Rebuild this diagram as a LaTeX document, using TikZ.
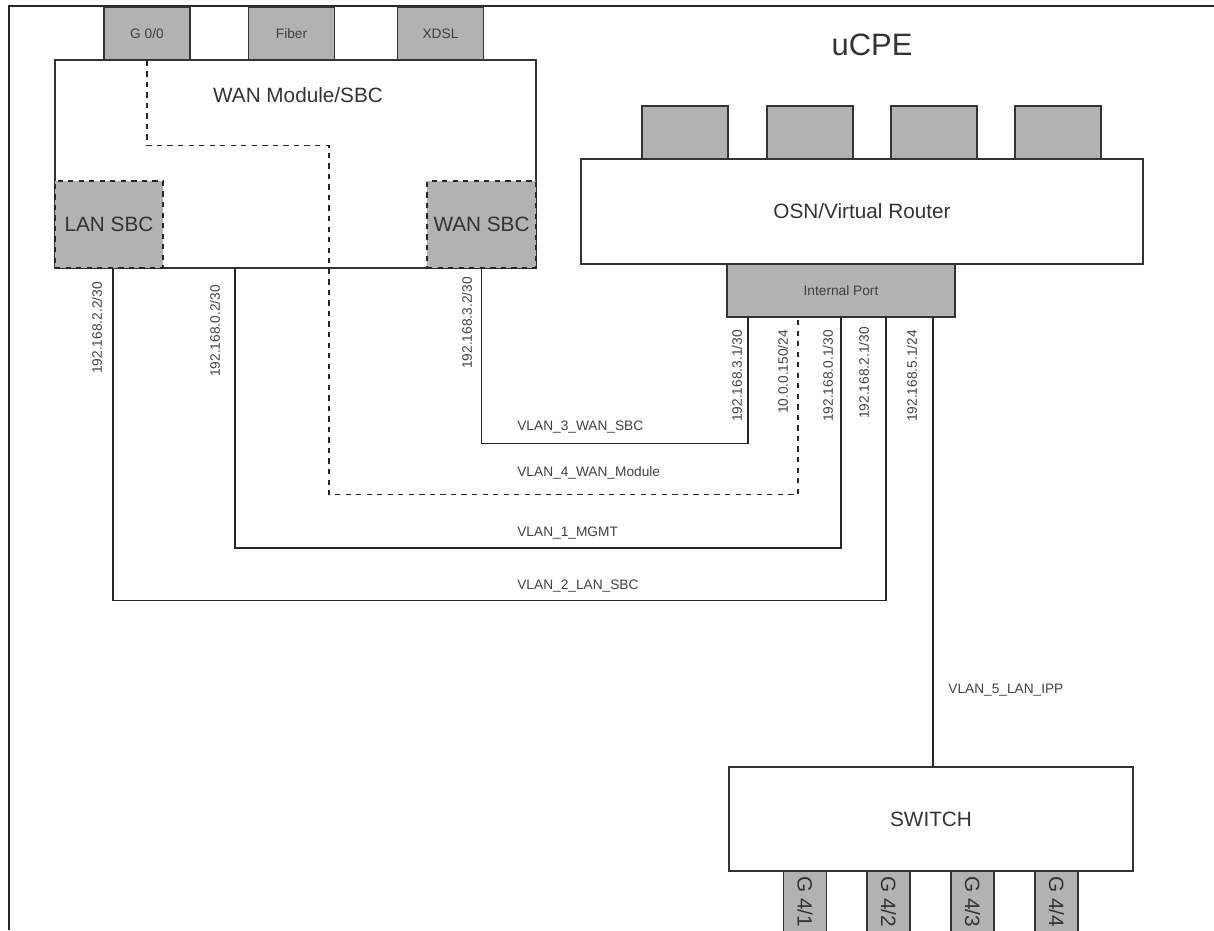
\documentclass[tikz,border=0pt]{standalone}
\usepackage{fontspec}
\setmainfont{Liberation Sans}
\usetikzlibrary{positioning}

\tikzset{
    box/.style={draw=black!80, fill=white, line width=0.8pt, inner sep=0pt,
        text=black!80, font=\fontsize{11.8}{14}\selectfont},
    port/.style={draw=black!80, fill=black!30, line width=0.8pt, inner sep=0pt,
        minimum width=1.72cm, minimum height=1.06cm,
        text=black!75, font=\fontsize{7.8}{9}\selectfont},
    sbc/.style={draw=black!85, fill=black!30, dashed, line width=0.8pt, inner sep=0pt,
        minimum height=1.74cm, text=black!80, font=\fontsize{11.8}{14}\selectfont},
    swport/.style={draw=black!80, fill=black!30, line width=0.8pt,
        minimum width=0.86cm, minimum height=2.2cm},
    swtext/.style={rotate=-90, anchor=west, inner sep=0pt, text=black!80,
        font=\fontsize{11.8}{14}\selectfont},
    wire/.style={draw=black!85, line width=0.8pt},
    ip/.style={rotate=90, inner sep=0pt, text=black!75, font=\fontsize{7.8}{9}\selectfont},
    vlan/.style={anchor=west, inner sep=0pt, text=black!75, font=\fontsize{7.8}{9}\selectfont},
    frameline/.style={draw=black!85, line width=1.1pt}
}

\begin{document}
\begin{tikzpicture}[x=0.02cm, y=-0.02cm]
    \useasboundingbox (0,0) rectangle (1214,930);
    \clip (0,0) rectangle (1214,930);
    \draw[frameline] (1214,6) -- (9,6) -- (9,930);

    % WAN module side
    \node[box, minimum width=9.62cm, minimum height=4.16cm] (wanmod) at (295.5,164) {};
    \node[box, draw=none, fill=none] (wantitle) at (298,95) {WAN Module/SBC};
    \node[port] (g00) at (147,33.5) {G 0/0};
    \node[port] (fiber) at (291.5,33.5) {Fiber};
    \node[port] (xdsl) at (440.5,33.5) {XDSL};
    \node[sbc, minimum width=2.16cm] (lansbc) at (109,224.5) {LAN SBC};
    \node[sbc, minimum width=2.18cm] (wansbc) at (481.5,224.5) {WAN SBC};
    \coordinate (sbcmgmt) at (235,268);

    % uCPE side
    \node[box, draw=none, fill=none, font=\fontsize{17.6}{20}\selectfont] (ucpe) at (872,45) {uCPE};
    \node[box, minimum width=11.24cm, minimum height=2.1cm] (osn) at (862,211.5) {OSN/Virtual Router};
    \foreach \x [count=\i] in {685,810,934,1058}
        \node[port] (osnp\i) at (\x,132.5) {};
    \node[port, minimum width=4.56cm] (intport) at (841,290.5) {Internal Port};
    \coordinate (tap3) at (748,317);
    \coordinate (tap4) at (798,317);
    \coordinate (tap1) at (841,317);
    \coordinate (tap2) at (886,317);
    \coordinate (tap5) at (933,317);

    % switch
    \foreach \x [count=\i] in {805,888.5,972.5,1056.5} {
        \node[swport] (swp\i) at (\x,925) {};
        \node[swtext] (swl\i) at (\x,876) {G 4/\i};
    }
    \node[box, minimum width=8.08cm, minimum height=2.08cm] (switch) at (931,819) {SWITCH};

    % vlans
    \draw[wire] (wansbc.south) -- ++(0,175) -| (tap3);
    \draw[wire, dashed] (g00.south) -- ++(0,85) -- ++(182,0) -- ++(0,349) -| (tap4);
    \draw[wire] (sbcmgmt) -- ++(0,280) -| (tap1);
    \draw[wire] ([xshift=0.08cm]lansbc.south) -- ++(0,332) -| (tap2);
    \draw[wire] (tap5) -- (tap5 |- switch.north);

    \node[vlan] (vlan3) at (517,427) {VLAN\_3\_WAN\_SBC};
    \node[vlan] (vlan4) at (517,473) {VLAN\_4\_WAN\_Module};
    \node[vlan] (vlan1) at (517,533) {VLAN\_1\_MGMT};
    \node[vlan] (vlan2) at (517,586) {VLAN\_2\_LAN\_SBC};
    \node[vlan] (vlan5) at (948,690) {VLAN\_5\_LAN\_IPP};

    % addresses
    \node[ip] (ip22) at (97,328) {192.168.2.2/30};
    \node[ip] (ip02) at (215,331) {192.168.0.2/30};
    \node[ip] (ip32) at (467,323) {192.168.3.2/30};
    \node[ip] (ip31) at (737,376) {192.168.3.1/30};
    \node[ip] (ip150) at (783,372) {10.0.0.150/24};
    \node[ip] (ip01) at (828,376) {192.168.0.1/30};
    \node[ip] (ip21) at (864,373) {192.168.2.1/30};
    \node[ip] (ip51) at (912,376) {192.168.5.1/24};
\end{tikzpicture}
\end{document}
